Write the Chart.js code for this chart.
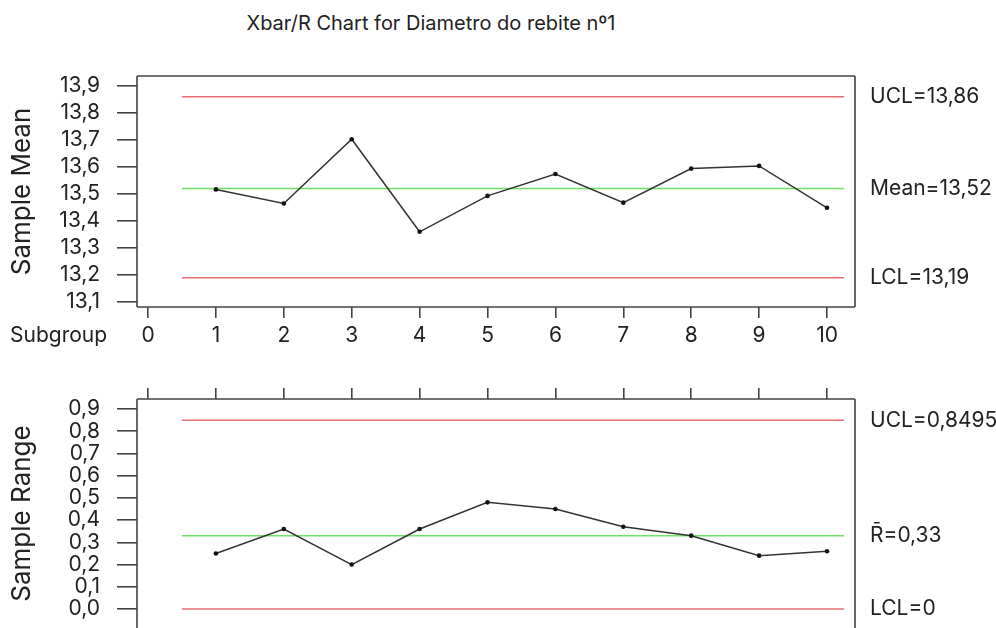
<!DOCTYPE html>
<html>
<head>
<meta charset="utf-8">
<script src="https://cdn.jsdelivr.net/npm/chart.js@4.4.1/dist/chart.umd.min.js"></script>
<style>
  html, body { margin: 0; padding: 0; background: #fff; overflow: hidden; }
  #wrap { position: relative; width: 996px; height: 628px; }
  #title {
    position: absolute; left: 0; top: 11px; width: 862px; line-height: 22px;
    text-align: center; font: 20px Inter, "Liberation Sans", sans-serif; color: #222;
  }
  #xbarChart { position: absolute; left: 0; top: 0; }
  #rangeChart { position: absolute; left: 0; top: 360px; }
</style>
</head>
<body>
<div id="wrap">
  <div id="title">Xbar/R Chart for Diametro do rebite nº1</div>
  <canvas id="xbarChart" width="996" height="360"></canvas>
  <canvas id="rangeChart" width="996" height="268"></canvas>
</div>
<script>
// Subgroups and measured statistics
const subgroups = [1, 2, 3, 4, 5, 6, 7, 8, 9, 10];
const sampleMeans = [13.517, 13.465, 13.703, 13.360, 13.493, 13.574, 13.468, 13.594, 13.604, 13.449];
const sampleRanges = [0.25, 0.36, 0.20, 0.36, 0.48, 0.45, 0.37, 0.33, 0.24, 0.26];

// Control limits (UCL, centre line, LCL) and their labels
const meanLimits = [13.86, 13.52, 13.19];
const meanLimitLabels = ['UCL=13,86', 'Mean=13,52', 'LCL=13,19'];
const rangeLimits = [0.8495, 0.33, 0];
const rangeLimitLabels = ['UCL=0,8495', 'R\u0304=0,33', 'LCL=0'];

// Axis ticks
const subgroupTicks = [0, 1, 2, 3, 4, 5, 6, 7, 8, 9, 10];
const meanTicks = [13.1, 13.2, 13.3, 13.4, 13.5, 13.6, 13.7, 13.8, 13.9];
const meanTickLabels = ['13,1', '13,2', '13,3', '13,4', '13,5', '13,6', '13,7', '13,8', '13,9'];
const rangeTicks = [0, 0.1, 0.2, 0.3, 0.4, 0.5, 0.6, 0.7, 0.8, 0.9];
const rangeTickLabels = ['0,0', '0,1', '0,2', '0,3', '0,4', '0,5', '0,6', '0,7', '0,8', '0,9'];

// Styling
const FONT = 'Inter, "Liberation Sans", sans-serif';
const TEXT = '#222';
const AXIS = '#444';
const RED = 'rgb(230, 108, 112)';
const GREEN = 'rgb(112, 224, 102)';
const SERIES = '#333';
const X_RANGE = [-0.162, 10.412];
const LIMIT_SPAN = [0.5, 10.25];
const tickFont = { family: FONT, size: 21 };
const titleFont = { family: FONT, size: 26 };

Chart.defaults.animation = false;
Chart.defaults.devicePixelRatio = 1;

function fixedTicks(values) {
  return scale => { scale.ticks = values.map(v => ({ value: v })); };
}

function limitDatasets(limits) {
  return limits.map((v, i) => ({
    data: LIMIT_SPAN.map(x => ({ x, y: v })),
    borderColor: i === 1 ? GREEN : RED,
    borderWidth: 1.5,
    pointRadius: 0,
    order: 2
  }));
}

function seriesDataset(values) {
  return {
    data: subgroups.map((s, i) => ({ x: s, y: values[i] })),
    borderColor: SERIES,
    borderWidth: 1.5,
    pointRadius: 2.3,
    pointBackgroundColor: '#111',
    pointBorderColor: '#111',
    pointBorderWidth: 0,
    order: 1
  };
}

// Frame around the plotting area; `sides` lists which edges to stroke
function framePlugin(sides) {
  return {
    id: 'frame',
    afterDraw(chart) {
      const { ctx, chartArea: a } = chart;
      ctx.save();
      ctx.strokeStyle = AXIS;
      ctx.lineWidth = 1.6;
      ctx.beginPath();
      if (sides.includes('top')) { ctx.moveTo(a.left, a.top); ctx.lineTo(a.right, a.top); }
      if (sides.includes('right')) { ctx.moveTo(a.right, a.top); ctx.lineTo(a.right, a.bottom); }
      if (sides.includes('bottom')) { ctx.moveTo(a.right, a.bottom); ctx.lineTo(a.left, a.bottom); }
      if (sides.includes('left')) { ctx.moveTo(a.left, a.bottom); ctx.lineTo(a.left, a.top); }
      ctx.stroke();
      ctx.restore();
    }
  };
}

// "Subgroup" caption on the same row as the x tick labels
const subgroupCaption = {
  id: 'subgroupCaption',
  afterDraw(chart) {
    const s = chart.scales.x;
    const y = s.top + s.options.grid.tickLength + s.options.ticks.padding + tickFont.size * 1.2 / 2;
    const { ctx } = chart;
    ctx.save();
    ctx.font = `${tickFont.size}px ${FONT}`;
    ctx.fillStyle = TEXT;
    ctx.textAlign = 'left';
    ctx.textBaseline = 'middle';
    ctx.fillText('Subgroup', 10, y);
    ctx.restore();
  }
};

// Vertical axes keep a fixed width and never push the plot area in for label overhang
function fixVertical(width) {
  return s => { s.width = width; s.paddingTop = 0; s.paddingBottom = 0; };
}

function fixHorizontal(height) {
  return s => { s.height = height; s.paddingLeft = 0; s.paddingRight = 0; };
}

function leftAxis(min, max, ticks, labels, title) {
  return {
    type: 'linear', position: 'left', min, max,
    afterBuildTicks: fixedTicks(ticks),
    afterFit: fixVertical(137),
    grid: { display: true, drawOnChartArea: false, drawTicks: true, tickLength: 20, color: AXIS, lineWidth: 1.6 },
    border: { display: false },
    ticks: { autoSkip: false, padding: 17, font: tickFont, color: TEXT, callback: (v, i) => labels[i] },
    title: { display: true, text: title, font: titleFont, color: TEXT, padding: { top: 7, bottom: 0 } }
  };
}

function rightAxis(min, max, limits, labels) {
  return {
    type: 'linear', position: 'right', min, max,
    afterBuildTicks: fixedTicks(limits),
    afterFit: fixVertical(141),
    grid: { display: false, drawTicks: false, tickLength: 0 },
    border: { display: false },
    ticks: { autoSkip: false, padding: 15, font: tickFont, color: TEXT, callback: (v, i) => labels[i] }
  };
}

const common = {
  responsive: false,
  animation: false,
  events: [],
  plugins: { legend: { display: false }, tooltip: { enabled: false } }
};

// X-bar chart
new Chart(document.getElementById('xbarChart'), {
  type: 'line',
  data: { datasets: [seriesDataset(sampleMeans), ...limitDatasets(meanLimits)] },
  options: {
    ...common,
    layout: { autoPadding: false, padding: { top: 76, left: 0, right: 0, bottom: 0 } },
    scales: {
      x: {
        type: 'linear', position: 'bottom', min: X_RANGE[0], max: X_RANGE[1],
        afterBuildTicks: fixedTicks(subgroupTicks),
        afterFit: fixHorizontal(53),
        grid: { display: true, drawOnChartArea: false, drawTicks: true, tickLength: 11, color: AXIS, lineWidth: 1.6 },
        border: { display: false },
        ticks: { autoSkip: false, maxRotation: 0, padding: 5, font: tickFont, color: TEXT, callback: v => String(v) }
      },
      y: leftAxis(13.0815, 13.937, meanTicks, meanTickLabels, 'Sample Mean'),
      yLimits: rightAxis(13.0815, 13.937, meanLimits, meanLimitLabels)
    }
  },
  plugins: [framePlugin(['top', 'right', 'bottom', 'left']), subgroupCaption]
});

// Range chart
new Chart(document.getElementById('rangeChart'), {
  type: 'line',
  data: { datasets: [seriesDataset(sampleRanges), ...limitDatasets(rangeLimits)] },
  options: {
    ...common,
    layout: { autoPadding: false, padding: { top: 0, left: 0, right: 0, bottom: 0 } },
    scales: {
      x: {
        type: 'linear', position: 'top', min: X_RANGE[0], max: X_RANGE[1],
        afterBuildTicks: fixedTicks(subgroupTicks),
        afterFit: fixHorizontal(39),
        grid: { display: true, drawOnChartArea: false, drawTicks: true, tickLength: 11, color: AXIS, lineWidth: 1.6 },
        border: { display: false },
        ticks: { display: false }
      },
      y: leftAxis(-0.0855, 0.945, rangeTicks, rangeTickLabels, 'Sample Range'),
      yLimits: rightAxis(-0.0855, 0.945, rangeLimits, rangeLimitLabels)
    }
  },
  plugins: [framePlugin(['top', 'right', 'left'])]
});
</script>
</body>
</html>
